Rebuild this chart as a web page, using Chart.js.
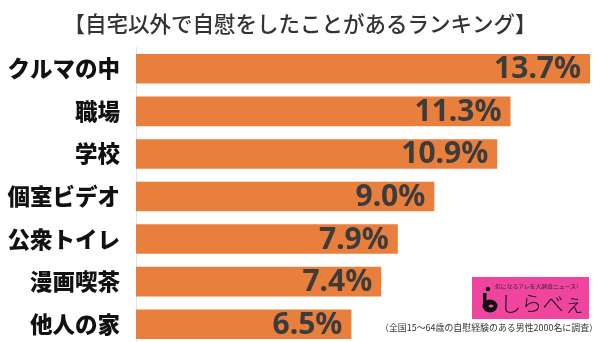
<!DOCTYPE html>
<html>
<head>
<meta charset="utf-8">
<script src="https://cdn.jsdelivr.net/npm/chart.js@4/dist/chart.umd.min.js"></script>
<style>
html,body{margin:0;padding:0;background:#fff;overflow:hidden;width:600px;height:342px;}
#wrap{width:600px;height:342px;overflow:hidden;position:relative;}
</style>
</head>
<body>
<div id="wrap"><canvas id="c" width="600" height="375"></canvas></div>
<script>
const titleText = '【自宅以外で自慰をしたことがあるランキング】';
const categories = ['クルマの中', '職場', '学校', '個室ビデオ', '公衆トイレ', '漫画喫茶', '他人の家'];
const values = [13.7, 11.3, 10.9, 9.0, 7.9, 7.4, 6.5];
const footnote = '（全国15〜64歳の自慰経験のある男性2000名に調査）';
const logoTagline = '気になるアレを大調査ニュース!';
const logoName = 'しらべぇ';

const JP = '"Noto Sans CJK JP", "Noto Sans", sans-serif';

const valueLabels = {
  id: 'valueLabels',
  afterDatasetsDraw(chart) {
    const ctx = chart.ctx;
    const meta = chart.getDatasetMeta(0);
    ctx.save();
    ctx.font = 'bold 30px "Noto Sans", "DejaVu Sans", sans-serif';
    ctx.fillStyle = '#3c3c3c';
    ctx.textAlign = 'right';
    ctx.textBaseline = 'middle';
    meta.data.forEach((bar, i) => {
      ctx.fillText(values[i].toFixed(1) + '%', bar.x - 9, bar.y + 1);
    });
    ctx.restore();
  }
};

const decor = {
  id: 'decor',
  afterDraw(chart) {
    const ctx = chart.ctx;
    ctx.save();
    // logo box
    ctx.fillStyle = '#F0459F';
    ctx.fillRect(472, 277, 117, 42);
    // tagline
    ctx.fillStyle = '#222';
    ctx.textBaseline = 'middle';
    ctx.textAlign = 'left';
    ctx.font = '5px ' + JP;
    let w = ctx.measureText(logoTagline).width;
    ctx.save();
    ctx.translate(495, 286);
    ctx.scale(83 / w, 1);
    ctx.fillText(logoTagline, 0, 0);
    ctx.restore();
    // logo name
    ctx.fillStyle = '#111';
    ctx.font = '300 21px ' + JP;
    w = ctx.measureText(logoName).width;
    ctx.save();
    ctx.translate(500, 303);
    ctx.scale(85 / w, 1);
    ctx.fillText(logoName, 0, 0);
    ctx.restore();
    // icon
    ctx.fillStyle = '#111';
    ctx.beginPath();
    ctx.arc(488, 289, 2.2, 0, Math.PI * 2);
    ctx.fill();
    ctx.beginPath();
    ctx.ellipse(490, 306, 7.5, 6.5, 0, 0, Math.PI * 2);
    ctx.fill();
    ctx.fillRect(483, 293, 3.5, 13);
    ctx.fillStyle = '#F0459F';
    ctx.beginPath();
    ctx.ellipse(491, 306, 2.5, 1.5, 0, 0, Math.PI * 2);
    ctx.fill();
    // footnote
    ctx.fillStyle = '#333';
    ctx.font = '9px ' + JP;
    ctx.textAlign = 'left';
    w = ctx.measureText(footnote).width;
    ctx.save();
    ctx.translate(380, 328);
    ctx.scale(218 / w, 1);
    ctx.fillText(footnote, 0, 0);
    ctx.restore();
    ctx.restore();
  }
};

new Chart(document.getElementById('c'), {
  type: 'bar',
  data: {
    labels: categories,
    datasets: [{
      data: values,
      backgroundColor: '#E97F3D',
      borderWidth: 0,
      barPercentage: 0.695,
      categoryPercentage: 1
    }]
  },
  options: {
    indexAxis: 'y',
    responsive: false,
    animation: false,
    devicePixelRatio: 1,
    layout: { padding: 0 },
    plugins: {
      legend: { display: false },
      tooltip: { enabled: false },
      title: {
        display: true,
        text: titleText,
        color: '#333',
        font: { family: JP, size: 21.5, weight: '500', lineHeight: 1.2 },
        padding: { top: 10.5, bottom: 11.2 }
      }
    },
    scales: {
      x: {
        display: false,
        min: 0,
        max: 14
      },
      y: {
        afterFit(scale) { scale.width = 136; },
        grid: { display: false, drawTicks: false },
        border: { display: true, color: '#e2e2e2', width: 1 },
        ticks: {
          color: '#111',
          padding: 16,
          font: { family: JP, size: 22.5, weight: '900' }
        }
      }
    }
  },
  plugins: [valueLabels, decor]
});
</script>
</body>
</html>
